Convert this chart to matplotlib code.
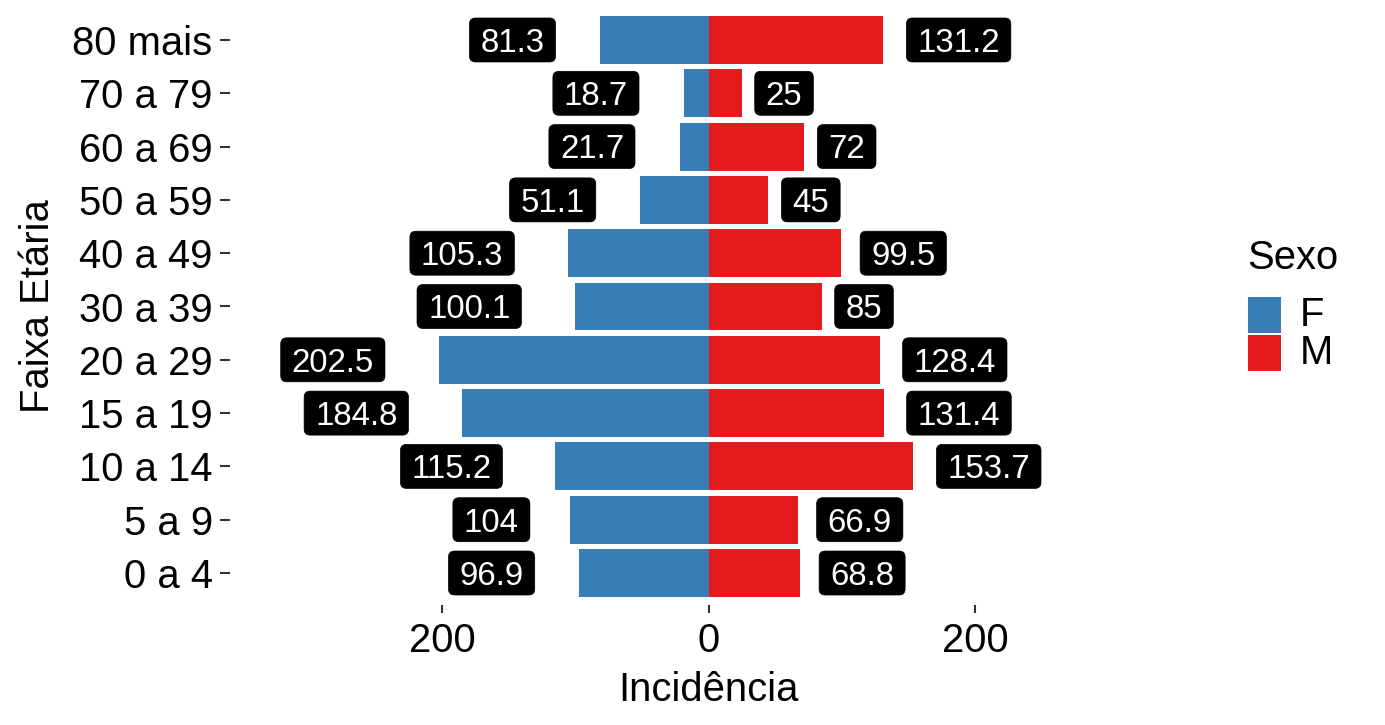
import matplotlib.pyplot as plt
import matplotlib as mpl
from matplotlib.patches import FancyBboxPatch, Rectangle
from matplotlib.transforms import IdentityTransform

# dados
faixas = ['0 a 4', '5 a 9', '10 a 14', '15 a 19', '20 a 29', '30 a 39',
          '40 a 49', '50 a 59', '60 a 69', '70 a 79', '80 mais']
inc_f = [96.9, 104, 115.2, 184.8, 202.5, 100.1, 105.3, 51.1, 21.7, 18.7, 81.3]
inc_m = [68.8, 66.9, 153.7, 131.4, 128.4, 85, 99.5, 45, 72, 25, 131.2]
sexos = ['F', 'M']
cores = ['#377EB8', '#E41A1C']
x_ticks = [-200, 0, 200]

mpl.rcParams['font.family'] = ['Liberation Sans', 'DejaVu Sans']

W, H = 1385, 725
fig = plt.figure(figsize=(W / 100, H / 100), dpi=100)
ax = fig.add_axes([230 / W, (H - 605) / H, (1187 - 230) / W, 597 / H])

y = list(range(len(faixas)))
ax.barh(y, [-v for v in inc_f], height=0.9, color=cores[0])
ax.barh(y, inc_m, height=0.9, color=cores[1])

ax.set_xlim(-359, 359)
ax.set_ylim(-0.6, len(faixas) - 0.4)
ax.set_yticks(y)
ax.set_yticklabels(faixas)
ax.set_xticks(x_ticks)
ax.set_xticklabels([str(abs(t)) for t in x_ticks])
for s in ax.spines.values():
    s.set_visible(False)
ax.tick_params(axis='y', length=7.5, width=1.5, color='#333333', labelsize=28.8, pad=5)
ax.tick_params(axis='x', length=6, width=1.5, color='#333333', labelsize=28.8, pad=6)

# rotulos tipo geom_label
renderer = fig.canvas.get_renderer()
fs = 23.8
box_h = 44
pad_x = 11

def add_label(value, yi, side):
    txt = f"{value:g}"
    px, py = ax.transData.transform((side * value, yi))
    t = ax.text(0, 0, txt, fontsize=fs, color='white', ha='center', va='baseline',
                transform=IdentityTransform(), zorder=6, clip_on=False)
    tw = t.get_window_extent(renderer).width
    bw = tw + 2 * pad_x
    if side < 0:
        cx = px - bw - 1.5
    else:
        cx = px + 0.72 * bw
    t.set_position((cx, py - 11.8))
    box = FancyBboxPatch((cx - bw / 2, py - box_h / 2), bw, box_h,
                         boxstyle="round,pad=0,rounding_size=6",
                         facecolor='black', edgecolor='black', linewidth=0.5,
                         transform=IdentityTransform(), zorder=5, clip_on=False)
    ax.add_patch(box)

for i in y:
    add_label(inc_f[i], i, -1)
    add_label(inc_m[i], i, 1)

# titulos dos eixos
fig.text(708 / W, 1 - 690 / H, 'Incidência', fontsize=28.8, ha='center', va='center')
fig.text(38 / W, 1 - 306 / H, 'Faixa Etária', fontsize=28.8, ha='center', va='center',
         rotation=90)

# legenda
fig.text(1247 / W, 1 - 258 / H, 'Sexo', fontsize=28.8, ha='left', va='center')
for k, (s, c) in enumerate(zip(sexos, cores)):
    top = 297 + k * 38
    fig.add_artist(Rectangle((1248 / W, 1 - (top + 36) / H), 33 / W, 36 / H,
                             facecolor=c, edgecolor='none', transform=fig.transFigure))
    fig.text(1300 / W, 1 - (top + 18) / H, s, fontsize=28.8, ha='left', va='center')

fig.savefig('out.png', dpi=100)
